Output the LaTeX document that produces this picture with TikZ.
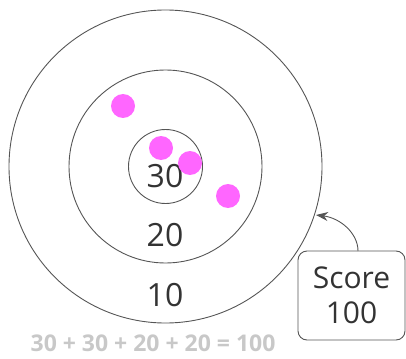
\documentclass[tikz,border=0pt]{standalone}
\usepackage{fontspec}
\setmainfont{Open Sans}
\usetikzlibrary{arrows.meta}
\definecolor{ring}{HTML}{555555}
\definecolor{dart}{HTML}{FF66FF}
\definecolor{txt}{HTML}{333333}
\definecolor{sumgray}{HTML}{C8C8C8}
\tikzset{
  ringline/.style={draw=ring, line width=0.9pt},
  dartdot/.style={circle, fill=dart, inner sep=0pt, minimum size=24pt},
  zonelabel/.style={text=txt, font=\fontsize{32}{34}\selectfont, inner sep=0pt},
  scorebox/.style={draw=ring, line width=0.9pt, rounded corners=9pt, text=txt,
    font=\fontsize{30}{35}\selectfont, align=center, minimum width=107pt, minimum height=89pt, inner sep=0pt},
}
\begin{document}
\begin{tikzpicture}[x=1pt,y=-1pt]
\useasboundingbox (0,0) rectangle (406,358);
\coordinate (c) at (165.5,166.5);
\draw[ringline] (c) circle (156.5);
\draw[ringline] (c) circle (96.5);
\draw[ringline] (c) circle (37);
\node[zonelabel] (z30) at (165,176) {30};
\node[zonelabel] (z20) at (165,235) {20};
\node[zonelabel] (z10) at (165,295) {10};
\node[dartdot] (d1) at (123,106) {};
\node[dartdot] (d2) at (161,148) {};
\node[dartdot] (d3) at (190,163) {};
\node[dartdot] (d4) at (228,196) {};
\node[scorebox] (score) at (351.5,295.5) {Score\\100};
\coordinate (tip) at (316,215);
\draw[ring, line width=0.9pt, -{Stealth[length=12pt,width=9pt]}] (358,251) .. controls (358,233) and (340,218) .. (tip);
\node[text=sumgray, font=\bfseries\fontsize{23}{25}\selectfont, inner sep=0pt] (sum) at (153,343) {30 + 30 + 20 + 20 = 100};
\end{tikzpicture}
\end{document}
